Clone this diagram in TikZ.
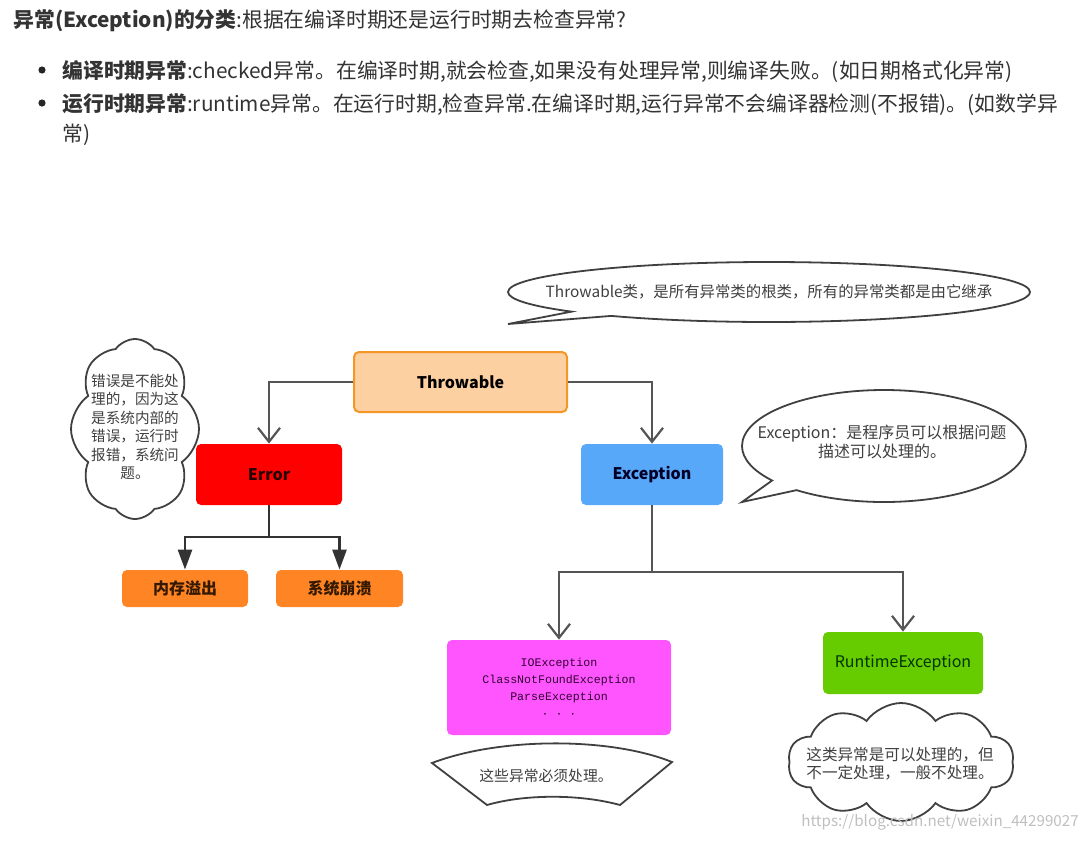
\documentclass[tikz,border=0pt]{standalone}
\usepackage{fontspec}
\setmainfont{Noto Sans CJK SC}
\newfontfamily\monofont{Liberation Mono}
\usetikzlibrary{arrows.meta,shapes.symbols,shapes.callouts}

\definecolor{peach}{RGB}{253,208,162}
\definecolor{peachline}{RGB}{245,150,40}
\definecolor{errred}{RGB}{255,0,0}
\definecolor{exblue}{RGB}{88,168,250}
\definecolor{leaforange}{RGB}{255,132,36}
\definecolor{checkpink}{RGB}{255,85,255}
\definecolor{rungreen}{RGB}{102,204,0}
\definecolor{linegray}{RGB}{85,85,85}
\definecolor{notegray}{RGB}{64,64,64}

\tikzset{
  classbox/.style={rounded corners=2.5pt, inner sep=0pt, font=\fontsize{8}{9}\selectfont\bfseries},
  link/.style={draw=linegray, line width=1.1pt, -{Straight Barb[length=7pt,width=11pt]}},
  sublink/.style={draw=black!80, line width=1.3pt, -{Triangle[length=10pt,width=7pt]}},
  noteshape/.style={draw=black!75, line width=0.9pt, fill=white, inner sep=0pt},
  notetext/.style={text=notegray, font=\fontsize{8}{9.2}\selectfont, align=center, inner sep=0pt},
  headline/.style={anchor=base west, inner sep=0pt, text=black!80, font=\fontsize{10.4}{12}\selectfont},
}

\begin{document}
\begin{tikzpicture}[x=0.5pt,y=-0.5pt]
  \useasboundingbox (0,0) rectangle (1085,841);

  % heading
  \node[headline] (title) at (13,27) {\textbf{异常(Exception)的分类}:根据在编译时期还是运行时期去检查异常?};
  \node[circle, fill=black!85, inner sep=0pt, minimum size=3.6pt] (dot1) at (42,70) {};
  \node[circle, fill=black!85, inner sep=0pt, minimum size=3.6pt] (dot2) at (42,103) {};
  \node[headline] (line1) at (62,78) {\textbf{编译时期异常}:checked异常。在编译时期,就会检查,如果没有处理异常,则编译失败。(如日期格式化异常)};
  \node[headline] (line2) at (62,111) {\textbf{运行时期异常}:runtime异常。在运行时期,检查异常.在编译时期,运行异常不会编译器检测(不报错)。(如数学异};
  \node[headline] (line3) at (62,141) {常)};

  % classes
  \node[classbox, draw=peachline, line width=1pt, fill=peach, minimum width=106.5pt, minimum height=30pt] (throwable) at (460.5,382) {Throwable};
  \node[classbox, fill=errred, text=black!85!red, minimum width=73pt, minimum height=30.5pt] (error) at (269,474.5) {Error};
  \node[classbox, fill=exblue, text=black!85!blue, minimum width=71pt, minimum height=30.5pt] (exception) at (652,474.5) {Exception};
  \node[classbox, fill=leaforange, text=black!80!orange, minimum width=63pt, minimum height=18.5pt] (overflow) at (185,588.5) {内存溢出};
  \node[classbox, fill=leaforange, text=black!80!orange, minimum width=63.5pt, minimum height=18.5pt] (crash) at (339.5,588.5) {系统崩溃};
  \node[classbox, fill=checkpink, text=black!60!violet, minimum width=112pt, minimum height=47.5pt,
        font=\monofont\fontsize{5.8}{8.5}\selectfont, align=center] (checked) at (559,687.5)
        {IOException\\ClassNotFoundException\\ParseException\\· · ·};
  \node[classbox, fill=rungreen, text=black!80!green, minimum width=80pt, minimum height=31pt,
        font=\fontsize{8}{9}\selectfont] (runtime) at (903,663) {RuntimeException};

  % connectors
  \coordinate (errjoin) at (269,537);
  \coordinate (exjoin) at (652,572);
  \draw[link] (throwable.west) -| (error.north);
  \draw[link] (throwable.east) -| (exception.north);
  \draw[draw=black!80, line width=1.3pt] (error.south) -- (errjoin);
  \draw[sublink] (errjoin) -| (overflow.north);
  \draw[sublink] (errjoin) -| (crash.north);
  \draw[draw=linegray, line width=1.1pt] (exception.south) -- (exjoin);
  \draw[link] (exjoin) -| (checked.north);
  \draw[link] (exjoin) -| (runtime.north);

  % notes
  \coordinate (toptip) at (508,324);
  \node[noteshape, ellipse callout, callout absolute pointer={(toptip)}, callout pointer arc=12,
        minimum width=261pt, minimum height=30pt] (topnote) at (769,292) {};
  \node[notetext, font=\fontsize{7.7}{9}\selectfont] (topnotetext) at (topnote.center) {Throwable类，是所有异常类的根类，所有的异常类都是由它继承};

  \coordinate (extip) at (742,502);
  \node[noteshape, ellipse callout, callout absolute pointer={(extip)}, callout pointer arc=14,
        minimum width=142pt, minimum height=56pt] (exnote) at (884,446) {};
  \node[notetext] (exnotetext) at (882,442) {Exception：是程序员可以根据问题\\描述可以处理的。};

  \node[noteshape, cloud, cloud puffs=8, cloud puff arc=110, cloud ignores aspect, minimum width=64pt, minimum height=90pt] (errcloud) at (135,429) {};
  \node[notetext, font=\fontsize{7.3}{9.2}\selectfont] (errcloudtext) at (135,427) {错误是不能处\\理的，因为这\\是系统内部的\\错误，运行时\\报错，系统问\\题。};

  \node[noteshape, cloud, cloud puffs=10, cloud puff arc=110, cloud ignores aspect, minimum width=113pt, minimum height=59pt] (runcloud) at (901,762) {};
  \node[notetext, font=\fontsize{7.8}{9.2}\selectfont] (runcloudtext) at (900,764) {这类异常是可以处理的，但\\不一定处理，一般不处理。};

  \draw[noteshape] (432,763) .. controls (500,737) and (610,737) .. (672,762)
    -- (620,805) .. controls (580,794) and (525,794) .. (487,805) -- cycle;
  \node[notetext, font=\fontsize{7.4}{9}\selectfont] (mustnote) at (546,776) {这些异常必须处理。};

  \node[text=black!25, font=\fontsize{7.6}{9}\selectfont, inner sep=0pt] (mark) at (940,822) {https://blog.csdn.net/weixin\_44299027};
\end{tikzpicture}
\end{document}
